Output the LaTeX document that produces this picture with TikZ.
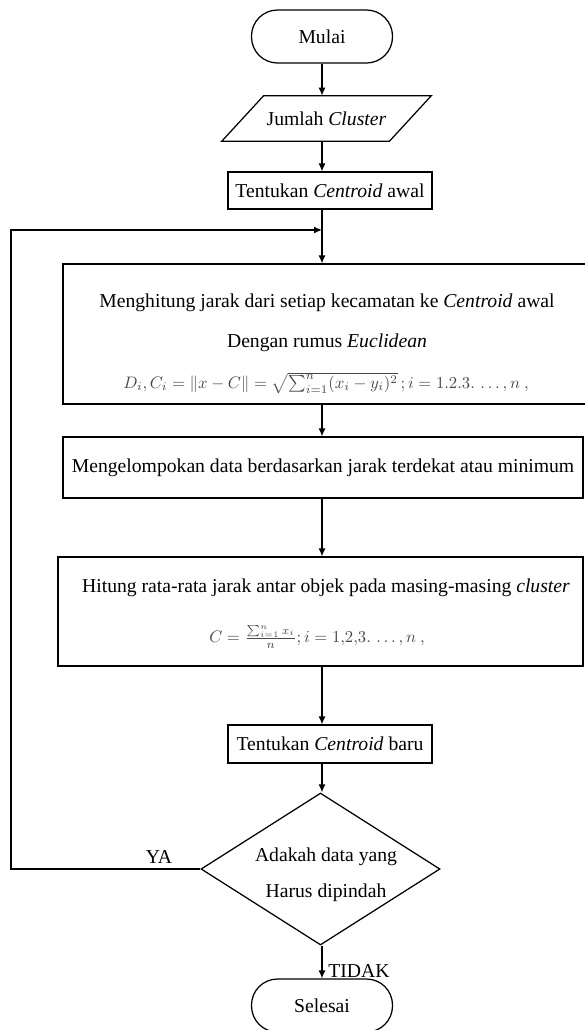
\documentclass[tikz,border=0pt]{standalone}
\usepackage{amsmath}
\usepackage{fontspec}
\setmainfont{Liberation Serif}
\usetikzlibrary{shapes.geometric,arrows.meta,calc}
\newlength\pxu
\setlength\pxu{0.6pt}
\begin{document}
\begin{tikzpicture}[x=0.6pt,y=-0.6pt,
  font=\fontsize{11.8}{14}\selectfont,
  line/.style={line width=0.75pt,draw=black},
  arr/.style={line, -{Latex[length=4.8pt,width=4.2pt]}},
  box/.style={line, rectangle, inner sep=0pt},
  term/.style={line, rectangle, rounded corners=26\pxu, inner sep=0pt, minimum width=141\pxu, minimum height=53\pxu},
  lbl/.style={inner sep=0pt},
  frm/.style={inner sep=0pt, text=black!72, font=\fontsize{9.6}{12}\selectfont}]
\useasboundingbox (0,0) rectangle (585,1030);

% terminators and boxes
\node[term] (mulai) at (322,36.5) {Mulai};
\node[lbl, minimum width=167\pxu, minimum height=45\pxu] (jumlah) at (326.5,118.5) {Jumlah \textit{Cluster}};
\draw[line] ($(jumlah.north west)+(21,0)$) -- ($(jumlah.north east)+(21,0)$)
  -- ($(jumlah.south east)+(-21,0)$) -- ($(jumlah.south west)+(-21,0)$) -- cycle;
\node[box, minimum width=204\pxu, minimum height=37\pxu] (awal) at (330,190.5) {Tentukan \textit{Centroid} awal};

\node[box, minimum width=524\pxu, minimum height=140\pxu] (jarak) at (325,334) {};
\node[lbl] (jarakA) at (327,303) {Menghitung jarak dari setiap kecamatan ke \textit{Centroid} awal};
\node[lbl] (jarakB) at (327,343) {Dengan rumus \textit{Euclidean}};
\node[frm] (jarakC) at (326,383) {$D_i, C_i = \lVert x - C\rVert = \sqrt{\sum_{i=1}^{n}(x_i - y_i)^2}\,; i = 1.2.3.\,\ldots, n\ ,$};

\node[box, minimum width=520\pxu, minimum height=61\pxu] (kelompok) at (323,467.5) {Mengelompokan data berdasarkan jarak terdekat atau minimum};

\node[box, minimum width=525\pxu, minimum height=109\pxu] (rata) at (320.5,611.5) {};
\node[lbl] (rataA) at (326,588) {Hitung rata-rata jarak antar objek pada masing-masing \textit{cluster}};
\node[frm] (rataB) at (317,637) {$C = \frac{\sum_{i=1}^{n} x_i}{n}; i = 1{,}2{,}3.\,\ldots, n\ ,$};

\node[box, minimum width=204\pxu, minimum height=38\pxu] (baru) at (330,744) {Tentukan \textit{Centroid} baru};

\node[line, diamond, inner sep=0pt, minimum width=239\pxu, minimum height=152\pxu] (dec) at (320.5,869) {};
\node[lbl] (decA) at (326,857) {Adakah data yang};
\node[lbl] (decB) at (326,893) {Harus dipindah};

\node[term] (selesai) at (322,1005.5) {Selesai};

\node[lbl] (ya) at (159,857) {YA};
\node[lbl, anchor=west] (tidak) at (328,971) {TIDAK};

% connectors
\coordinate (merge) at (322,230);
\coordinate (loopleft) at (11,230);
\draw[arr] (mulai.south) -- (mulai.south |- jumlah.north);
\draw[arr] (jumlah.south -| mulai) -- (awal.north -| mulai);
\draw[arr] (awal.south -| mulai) -- (jarak.north -| mulai);
\draw[arr] (jarak.south -| mulai) -- (kelompok.north -| mulai);
\draw[arr] (kelompok.south -| mulai) -- (rata.north -| mulai);
\draw[arr] (rata.south -| mulai) -- (baru.north -| mulai);
\draw[arr] (baru.south -| mulai) -- (dec.north -| mulai);
\draw[arr] (dec.south -| mulai) -- (selesai.north);
\draw[arr] (dec.west) -| (loopleft) -- (merge);
\end{tikzpicture}
\end{document}
